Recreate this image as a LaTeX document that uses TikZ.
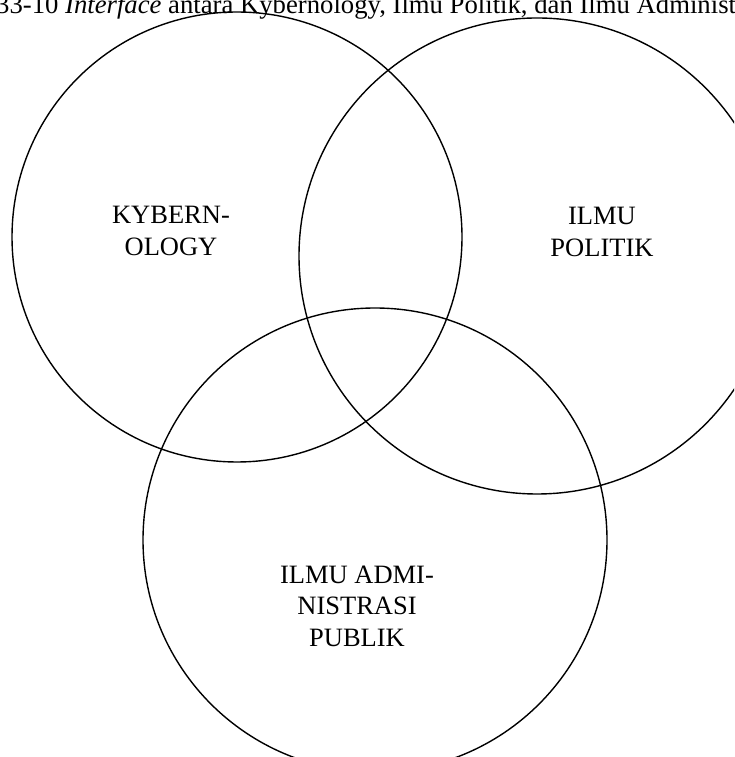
\documentclass[tikz,border=0pt]{standalone}
\usepackage{fontspec}
\setmainfont{Liberation Serif}
\begin{document}
\begin{tikzpicture}[x=1pt,y=1pt,
  ring/.style={draw=black,line width=1.4pt},
  areatext/.style={align=center,font=\fontsize{26.5}{31.5}\selectfont,inner sep=0pt},
  captiontext/.style={anchor=base west,font=\fontsize{26.7}{30}\selectfont,inner sep=0pt}]
  \useasboundingbox (0,0) rectangle (734,757);
  \clip (0,0) rectangle (734,757);
  \fill[white] (0,0) rectangle (734,757);

  % caption along the top edge
  \node[captiontext] (caption) at (-4,743)
    {33-10 \textit{Interface} antara Kybernology, Ilmu Politik, dan Ilmu Administrasi Publik};

  % the three overlapping fields
  \draw[ring] (237,520) circle[radius=225];
  \draw[ring] (537,501) circle[radius=238];
  \draw[ring] (375,217) circle[radius=232];

  % field names
  \node[areatext] (kyb) at (171,526) {KYBERN-\\OLOGY};
  \node[areatext] (pol) at (602,525) {ILMU\\POLITIK};
  \node[areatext] (adm) at (357,151) {ILMU ADMI-\\NISTRASI\\PUBLIK};
\end{tikzpicture}
\end{document}
